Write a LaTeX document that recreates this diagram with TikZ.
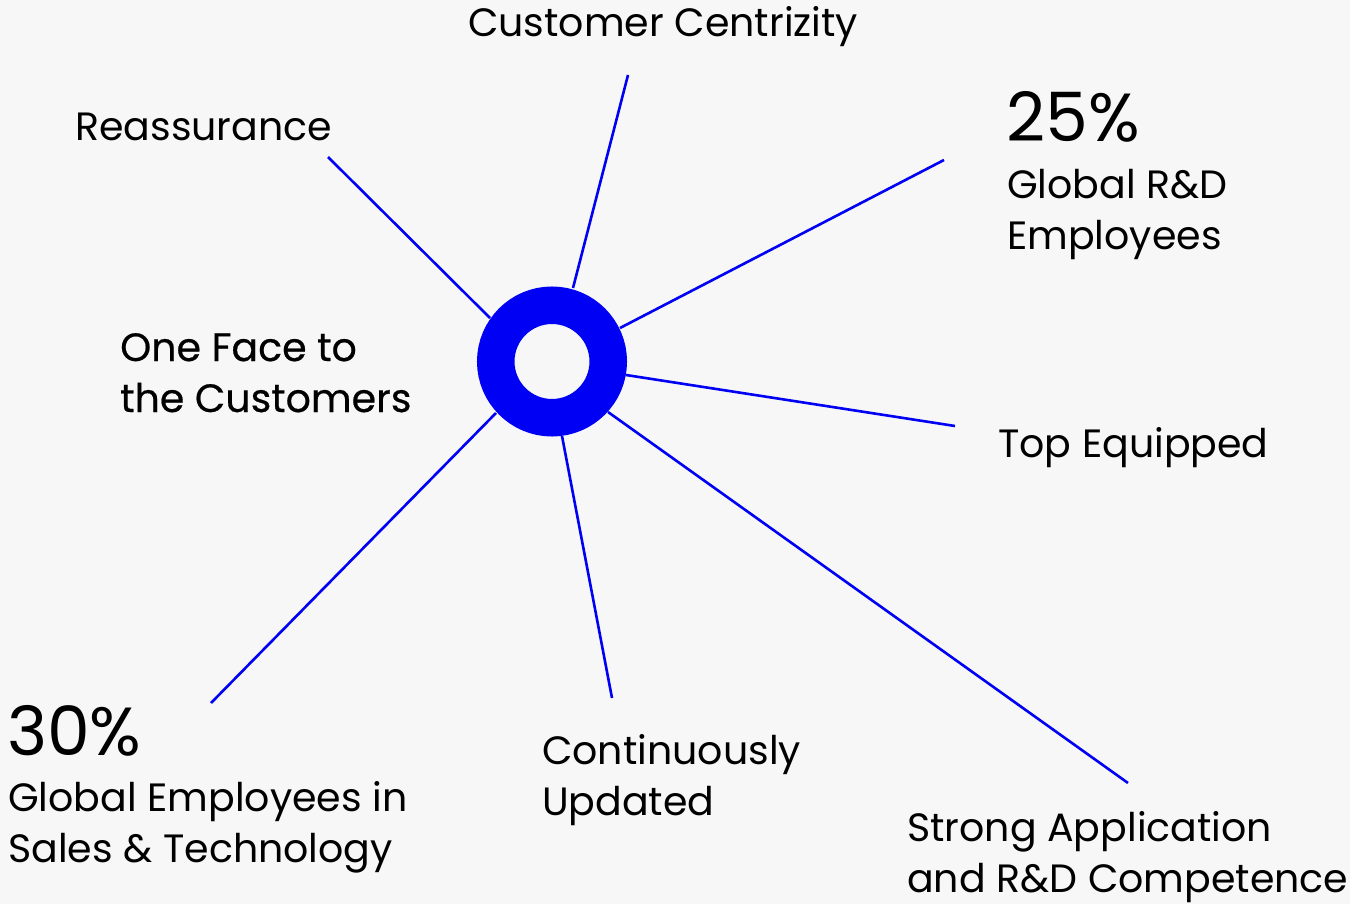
\documentclass[tikz,border=0pt]{standalone}
\usepackage{fontspec}
\setmainfont{Poppins}
\newfontfamily\facefont[FakeBold=0.5]{Poppins}
\usetikzlibrary{positioning}
\definecolor{hubblue}{RGB}{0,0,245}
\definecolor{paper}{RGB}{247,247,247}
\tikzset{%
  spoke/.style={draw=hubblue,line width=2.6pt},
  hubring/.style={circle,draw=hubblue,line width=37.5pt,minimum size=112.5pt,inner sep=0pt,outer sep=0pt},
  lbl/.style={anchor=base west,inner sep=0pt,align=left,font=\fontsize{39.5}{51}\selectfont},
  bignum/.style={anchor=base west,inner sep=0pt,font=\fontsize{68}{70}\selectfont}
}
\begin{document}
\begin{tikzpicture}[x=1pt,y=-1pt]
        \fill[paper] (0,0) rectangle (1350,904);
        \useasboundingbox (0,0) rectangle (1350,904);

        % outer ends of the spokes
        \coordinate (reasend) at (328,157);
        \coordinate (custend) at (628,75);
        \coordinate (rdend) at (944,160);
        \coordinate (topend) at (955,426);
        \coordinate (strongend) at (1128,783);
        \coordinate (contend) at (612,698);
        \coordinate (salesend) at (211,703);
        % where they meet the ring
        \coordinate (reasin) at (490,318);
        \coordinate (custin) at (573,288);
        \coordinate (rdin) at (620,328);
        \coordinate (topin) at (626,375);
        \coordinate (strongin) at (608,412);
        \coordinate (contin) at (562,436);
        \coordinate (salesin) at (496,413);

        \draw[spoke] (reasend) -- (reasin);
        \draw[spoke] (custend) -- (custin);
        \draw[spoke] (rdend) -- (rdin);
        \draw[spoke] (topend) -- (topin);
        \draw[spoke] (strongend) -- (strongin);
        \draw[spoke] (contend) -- (contin);
        \draw[spoke] (salesend) -- (salesin);

        \node[hubring] (hub) at (552,361.5) {};

        % multi-line labels sit on the baseline of their last line
        \node[lbl] (custlabel) at (468,37) {Customer Centrizity};
        \node[lbl] (reaslabel) at (75,141) {Reassurance};
        \node[bignum] (rdnum) at (1006,142) {25\%};
        \node[lbl] (rdlabel) at (1007,250) {Global R\&D\\Employees};
        \node[lbl] (toplabel) at (998,457) {Top Equipped};
        \node[lbl] (stronglabel) at (907,892) {Strong Application\\and R\&D Competence};
        \node[lbl] (contlabel) at (542,815) {Continuously\\Updated};
        \node[bignum] (salesnum) at (7,755) {30\%};
        \node[lbl] (saleslabel) at (8,862) {Global Employees in\\Sales \& Technology};
        \node[lbl,font=\facefont\fontsize{39.5}{51}\selectfont] (facelabel) at (120,412) {One Face to\\the Customers};
      \end{tikzpicture}
\end{document}
